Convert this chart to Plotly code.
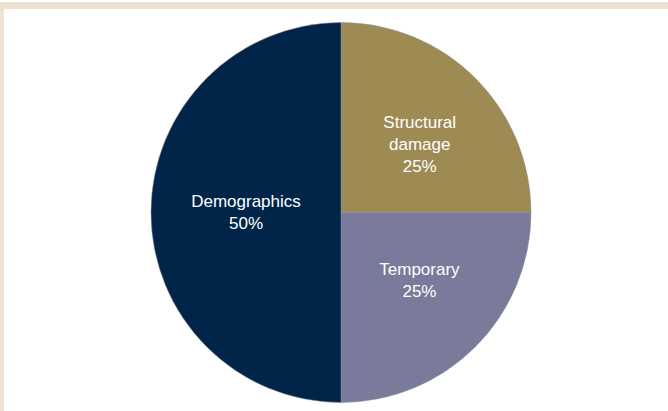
import plotly.graph_objects as go

labels = ["Structural<br>damage", "Temporary", "Demographics"]
values = [25, 25, 50]
colors = ["#9E8A53", "#7A7A9A", "#002548"]

W, H = 668, 411
cx, cy, r = 341, 212.5, 190

fig = go.Figure(go.Pie(
    labels=labels, values=values, sort=False, direction="clockwise", rotation=0,
    marker=dict(colors=colors, line=dict(width=0.5, color="#8a8aa0")),
    texttemplate=["&nbsp;<br>%{label}<br>%{percent}",
                  "%{label}<br>%{percent}<br>&nbsp;",
                  "%{label}<br>%{percent}"],
    textposition="inside", insidetextorientation="horizontal",
    textfont=dict(family="Liberation Sans, Arial", size=17, color="white"),
    hoverinfo="skip",
    domain=dict(x=[(cx - r) / W, (cx + r) / W], y=[(H - cy - r) / H, (H - cy + r) / H]),
))

fig.update_layout(
    width=W, height=H, margin=dict(l=0, r=0, t=0, b=0),
    paper_bgcolor="white", showlegend=False,
    shapes=[
        dict(type="rect", xref="paper", yref="paper", x0=0, x1=1, y0=1 - 9 / H, y1=1 - 2 / H,
             fillcolor="#EEE3D3", line_width=0, layer="below"),
        dict(type="rect", xref="paper", yref="paper", x0=0, x1=4 / W, y0=0, y1=1 - 2 / H,
             fillcolor="#EEE3D3", line_width=0, layer="below"),
    ],
)
fig.write_html("out.html", config={"displayModeBar": False},
               post_script="document.body.style.margin='0';document.body.style.overflow='hidden';")
